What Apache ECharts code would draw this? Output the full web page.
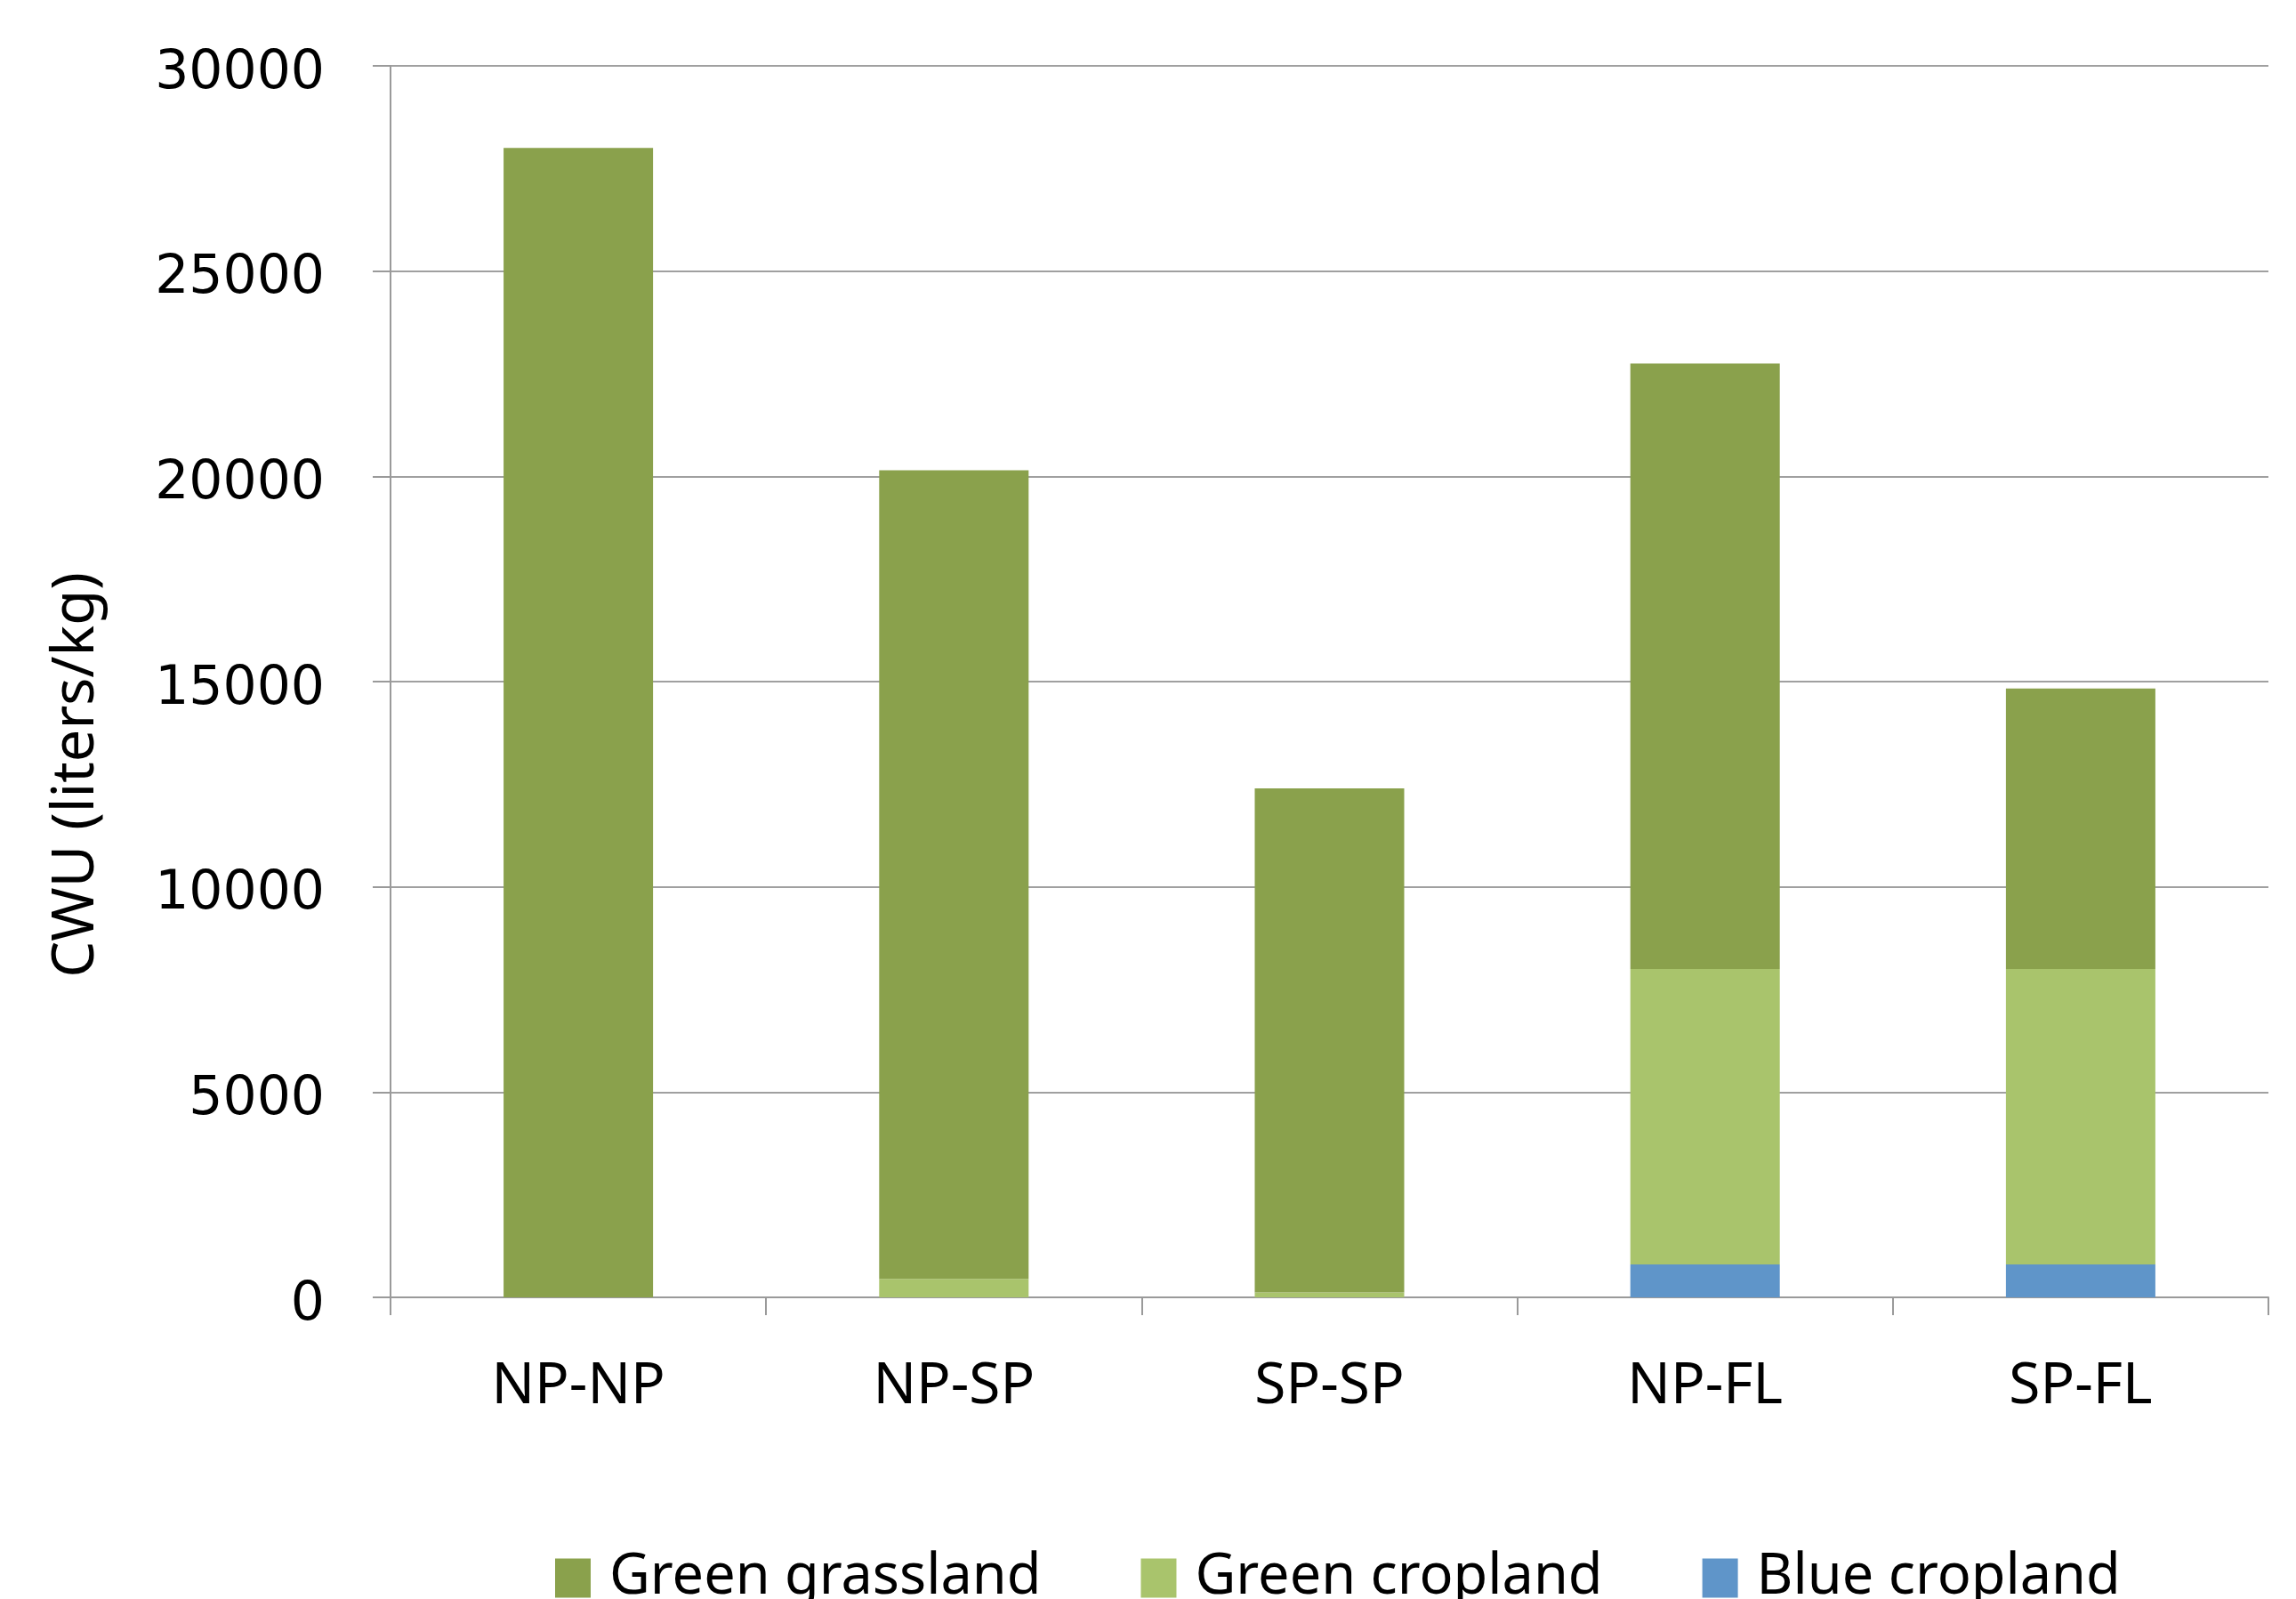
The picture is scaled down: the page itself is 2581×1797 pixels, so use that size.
<!DOCTYPE html>
<html>
<head>
<meta charset="utf-8">
<script src="https://cdn.jsdelivr.net/npm/echarts@6/dist/echarts.min.js"></script>
<style>
  html, body { margin: 0; padding: 0; background: #fff; }
  #chart { width: 2581px; height: 1797px; }
</style>
</head>
<body>
<div id="chart"></div>
<script>
let categories = ['NP-NP', 'NP-SP', 'SP-SP', 'NP-FL', 'SP-FL'];
let greenGrassland = [28000, 19700, 12280, 14750, 6830];
let greenCropland = [0, 450, 120, 7200, 7200];
let blueCropland = [0, 0, 0, 800, 800];
let yTicks = [0, 5000, 10000, 15000, 20000, 25000, 30000];

let chart = echarts.init(document.getElementById('chart'));

let option = {
  animation: false,
  backgroundColor: '#ffffff',
  grid: { left: 439, right: 31, top: 74, bottom: 339 },
  legend: {
    data: ['Green grassland', 'Green cropland', 'Blue cropland'],
    left: 619,
    top: 1737,
    itemWidth: 40,
    itemHeight: 44,
    itemGap: 112,
    icon: 'rect',
    textStyle: { fontFamily: 'Noto Sans', fontSize: 63, color: '#000', padding: [0, 0, 0, 16] }
  },
  xAxis: {
    type: 'category',
    data: categories,
    axisLine: { lineStyle: { color: '#9a9a9a', width: 2 } },
    axisTick: { show: true, length: 20, lineStyle: { color: '#9a9a9a', width: 2 } },
    axisLabel: { margin: 69, fontFamily: 'Noto Sans', fontSize: 64, color: '#000' }
  },
  yAxis: {
    type: 'value',
    min: yTicks[0],
    max: yTicks[yTicks.length - 1],
    interval: 5000,
    axisLine: { show: true, lineStyle: { color: '#9a9a9a', width: 2 } },
    axisTick: { show: true, length: 20, lineStyle: { color: '#9a9a9a', width: 2 } },
    splitLine: { lineStyle: { color: '#a0a0a0', width: 2 } },
    axisLabel: {
      margin: 74,
      formatter: function (v) { return '{n|' + v + '}'; },
      rich: {
        n: { fontFamily: 'DejaVu Sans', fontSize: 60, color: '#000', padding: [18, 0, 0, 0] }
      }
    }
  },
  graphic: [{
    type: 'text',
    x: 86,
    y: 871,
    rotation: Math.PI / 2,
    style: {
      text: 'CWU (liters/kg)',
      fontFamily: 'Noto Sans',
      fontSize: 65,
      fill: '#000',
      align: 'center',
      verticalAlign: 'middle'
    }
  }],
  series: [
    { name: 'Blue cropland', type: 'bar', stack: 'cwu', data: blueCropland, barWidth: 168,
      itemStyle: { color: '#5f95c9' } },
    { name: 'Green cropland', type: 'bar', stack: 'cwu', data: greenCropland, barWidth: 168,
      itemStyle: { color: '#a9c46c' } },
    { name: 'Green grassland', type: 'bar', stack: 'cwu', data: greenGrassland, barWidth: 168,
      itemStyle: { color: '#8aa14c' } }
  ]
};

chart.setOption(option);
</script>
</body>
</html>
